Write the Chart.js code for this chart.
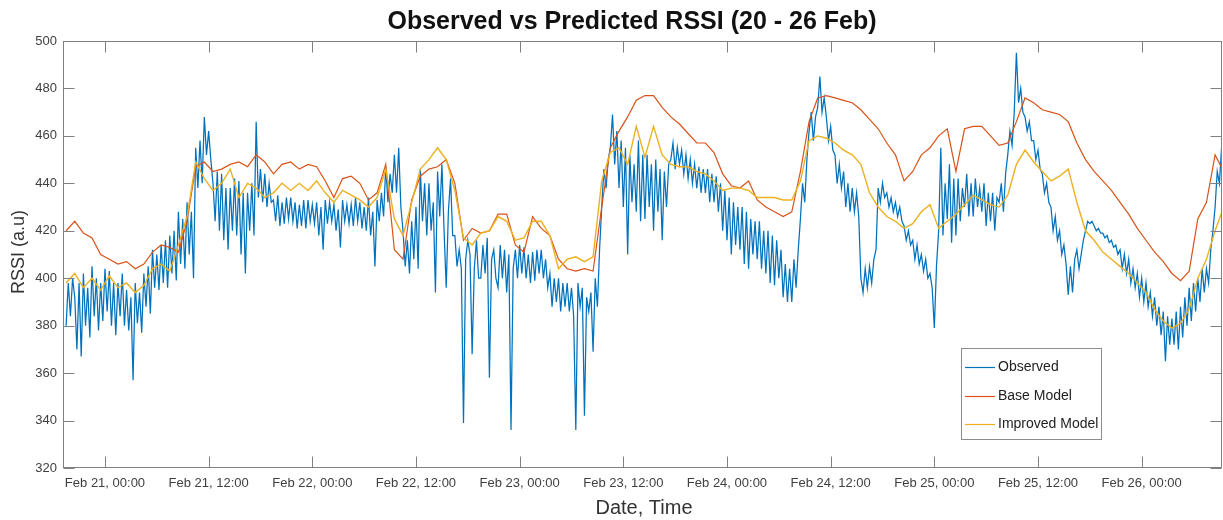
<!DOCTYPE html>
<html><head><meta charset="utf-8">
<script src="https://cdn.jsdelivr.net/npm/chart.js@4.4.1/dist/chart.umd.min.js"></script>
<style>html,body{margin:0;padding:0;background:#fff;}#wrap{position:relative;width:1223px;height:520px;}</style>
</head><body><div id="wrap"><canvas id="c" width="1223" height="520"></canvas></div>
<script>
const chartTitle = "Observed vs Predicted RSSI (20 - 26 Feb)";
const xAxisTitle = "Date, Time";
const yAxisTitle = "RSSI (a.u)";
const seriesNames = ["Observed", "Base Model", "Improved Model"];
const seriesColors = ["#0072BD", "#D95319", "#EDB120"];
// hours relative to Feb 21, 00:00
const xTickHours = [0, 12, 24, 36, 48, 60, 72, 84, 96, 108, 120];
const xTickLabels = ["Feb 21, 00:00", "Feb 21, 12:00", "Feb 22, 00:00", "Feb 22, 12:00", "Feb 23, 00:00", "Feb 23, 12:00", "Feb 24, 00:00", "Feb 24, 12:00", "Feb 25, 00:00", "Feb 25, 12:00", "Feb 26, 00:00"];
const yTicks = [320, 340, 360, 380, 400, 420, 440, 460, 480, 500];
const xRange = [-4.86, 129.3];

// observed, every 15 minutes from hour -4.5
const obsStart = -4.5, obsStep = 0.25;
const observed = [
380,398,384,400, 392,370,398,367, 402,380,396,375, 405,384,400,378, 398,382,404,386,
403,380,398,376, 398,384,402,380, 395,378,392,357, 398,381,394,377, 402,388,405,385,
412,396,410,395, 414,398,416,396, 418,402,420,399, 428,406,425,404, 432,410,428,400,
455,438,458,440, 468,452,462,450, 440,424,445,420, 444,416,438,412, 438,420,442,418,
441,410,436,402, 436,420,440,418, 466,434,446,432, 444,430,440,432, 433,424,435,422,
432,423,434,425, 434,424,432,421, 431,422,433,421, 433,424,431,423, 432,418,430,412,
433,423,432,424, 431,420,429,413, 433,424,431,423, 431,422,434,424, 432,421,430,420,
434,418,428,405, 433,424,436,426, 447,432,444,436, 452,436,455,430, 420,405,416,402,
424,408,430,404, 446,424,440,418, 440,420,432,394, 445,426,448,420, 396,428,442,418,
418,405,412,404, 339,408,416,410, 368,404,416,400, 400,414,402,417, 358,408,412,400,
396,414,400,412, 394,410,336,404, 412,400,414,402, 413,400,410,398, 411,399,412,402,
412,400,408,396, 402,388,400,390, 400,386,398,388, 398,386,396,384, 336,398,388,396,
342,392,386,394, 369,400,388,412, 430,446,438,450, 455,469,448,462, 438,458,430,455,
410,452,432,448, 428,458,424,452, 425,452,430,448, 420,450,428,446, 416,445,430,448,
450,457,446,455, 448,454,444,452, 442,450,440,448, 438,447,436,446, 436,446,432,444,
432,443,428,440, 420,437,416,434, 410,432,414,430, 412,430,406,428, 404,425,410,424,
408,424,404,420, 402,420,398,418, 397,416,400,412, 392,406,390,404, 390,408,396,412,
425,440,432,450, 462,470,458,468, 472,485,470,476, 468,458,464,454, 452,440,448,438,
445,430,440,428, 438,428,436,426, 400,394,404,396, 405,398,408,412, 438,432,440,434,
436,430,434,428, 432,426,430,424, 422,416,420,414, 416,408,414,406, 410,403,408,400,
402,396,379,405, 420,455,418,440, 425,448,415,442, 418,442,424,438, 430,444,426,440,
426,442,430,438, 428,440,422,436, 424,436,420,434, 432,440,428,444, 452,462,456,470,
495,474,480,470, 468,462,466,458, 458,450,454,446, 444,436,440,432, 430,420,426,416,
420,410,414,406, 393,405,394,408, 412,404,410,416, 420,424,423,424, 422,420,421,419,
419,417,418,415, 416,413,414,410, 412,404,410,402, 408,398,404,396, 402,392,400,390,
398,388,394,384, 392,380,388,376, 386,365,384,372, 383,372,386,370, 388,375,392,380,
396,382,398,386, 400,390,404,394, 404,398,412,420, 430,445,440,455, 458
];

// models, hourly from hour -4.5
const modelStart = -4.5, modelStep = 1;
const baseModel = [
420,424,419,417,410,408,406,407,404,406,
411,414,413,411,424,447,449,445,446,448,
449,447,452,449,444,448,449,446,448,447,
441,434,442,443,440,433,436,448,412,408,
433,443,446,447,450,440,416,421,419,420,
427,427,414,411,426,421,418,408,404,403,
404,403,430,455,462,468,475,477,477,472,
468,465,461,457,457,453,444,439,438,441,
433,430,428,426,428,445,466,476,477,476,
475,474,471,467,463,457,452,441,445,452,
455,460,463,445,463,464,464,460,456,457,
466,476,474,471,470,469,466,457,450,445,
441,437,432,427,421,416,411,407,402,399,
403,425,432,452,445
];
const improvedModel = [
398,402,396,400,395,401,396,398,394,397,
404,406,403,414,426,449,442,437,440,446,
434,440,438,434,436,440,437,440,437,441,
436,432,437,435,433,430,434,446,425,418,
432,446,450,455,450,437,417,414,419,420,
426,424,416,417,424,424,418,404,408,409,
407,409,441,453,455,448,464,451,464,452,
448,447,447,445,444,441,437,438,438,437,
434,434,434,433,433,441,458,460,459,457,
454,452,448,436,430,426,424,421,423,428,
431,421,424,427,431,435,433,431,430,435,
448,454,449,445,441,443,446,432,420,416,
411,408,405,402,398,394,387,382,379,381,
387,400,408,420,430
];

function toPoints(vals, start, step) { return vals.map((v, i) => ({ x: start + i * step, y: v })); }

const FONT = '"Liberation Sans", Arial, Helvetica, sans-serif';

const framePlugin = {
  id: 'frame',
  afterDraw(chart) {
    const ctx = chart.ctx, a = chart.chartArea, xs = chart.scales.x, ys = chart.scales.y;
    const L = Math.round(a.left) + 0.5, R = Math.round(a.right) - 0.5, T = Math.round(a.top) + 0.5, B = Math.round(a.bottom) - 0.5;
    ctx.save();
    ctx.strokeStyle = '#808080'; ctx.lineWidth = 1;
    ctx.strokeRect(L, T, R - L, B - T);
    ctx.beginPath();
    xTickHours.forEach(h => {
      const px = Math.round(xs.getPixelForValue(h)) + 0.5;
      ctx.moveTo(px, B); ctx.lineTo(px, B - 11);
      ctx.moveTo(px, T); ctx.lineTo(px, T + 11);
    });
    yTicks.forEach(v => {
      const py = Math.round(ys.getPixelForValue(v)) + 0.5;
      ctx.moveTo(L, py); ctx.lineTo(L + 11, py);
      ctx.moveTo(R, py); ctx.lineTo(R - 11, py);
    });
    ctx.stroke();
    // title
    ctx.fillStyle = '#111';
    ctx.font = 'bold 25px ' + FONT;
    ctx.textAlign = 'center'; ctx.textBaseline = 'middle';
    ctx.fillText(chartTitle, 632, 22);
    // axis titles
    ctx.fillStyle = '#333';
    ctx.font = '20px ' + FONT;
    ctx.fillText(xAxisTitle, 644, 508);
    ctx.save();
    ctx.translate(19, 252); ctx.rotate(-Math.PI / 2);
    ctx.font = '18px ' + FONT;
    ctx.fillText(yAxisTitle, 0, 0);
    ctx.restore();
    // legend
    const bx = 961.5, by = 348.5, bw = 140, bh = 91;
    ctx.fillStyle = '#fff'; ctx.fillRect(bx, by, bw, bh);
    ctx.strokeStyle = '#8c8c8c'; ctx.strokeRect(bx, by, bw, bh);
    const rows = [367, 396, 424];
    ctx.font = '14px ' + FONT; ctx.textAlign = 'left';
    seriesNames.forEach((n, i) => {
      ctx.strokeStyle = seriesColors[i]; ctx.lineWidth = 1.2;
      ctx.beginPath(); ctx.moveTo(965, rows[i] + 0.5); ctx.lineTo(995, rows[i] + 0.5); ctx.stroke();
      ctx.fillStyle = '#222';
      ctx.fillText(n, 998, rows[i]);
    });
    ctx.restore();
  }
};

new Chart(document.getElementById('c'), {
  type: 'line',
  data: {
    datasets: [
      { label: seriesNames[0], data: toPoints(observed, obsStart, obsStep), borderColor: seriesColors[0], borderWidth: 1.25, pointRadius: 0, order: 2 },
      { label: seriesNames[1], data: toPoints(baseModel, modelStart, modelStep), borderColor: seriesColors[1], borderWidth: 1.2, pointRadius: 0, order: 1 },
      { label: seriesNames[2], data: toPoints(improvedModel, modelStart, modelStep), borderColor: seriesColors[2], borderWidth: 1.4, pointRadius: 0, order: 0 }
    ]
  },
  options: {
    responsive: false, animation: false, devicePixelRatio: 1,
    layout: { padding: { left: 0, right: 1, top: 41, bottom: 0 } },
    plugins: { legend: { display: false }, tooltip: { enabled: false }, title: { display: false } },
    elements: { line: { tension: 0 } },
    scales: {
      x: {
        type: 'linear', min: xRange[0], max: xRange[1],
        grid: { display: false, drawTicks: false }, border: { display: false },
        afterBuildTicks: s => { s.ticks = xTickHours.map(v => ({ value: v })); },
        afterFit: s => { s.height = 52; },
        ticks: { autoSkip: false, maxRotation: 0, padding: 8, color: '#404040', font: { family: FONT, size: 13 },
          callback: v => { const i = xTickHours.indexOf(v); return i >= 0 ? xTickLabels[i] : ''; } }
      },
      y: {
        type: 'linear', min: 320, max: 500,
        grid: { display: false, drawTicks: false }, border: { display: false },
        afterBuildTicks: s => { s.ticks = yTicks.map(v => ({ value: v })); },
        afterFit: s => { s.width = 63; },
        ticks: { padding: 6, color: '#404040', font: { family: FONT, size: 13 } }
      }
    }
  },
  plugins: [framePlugin]
});
</script>
</body></html>
